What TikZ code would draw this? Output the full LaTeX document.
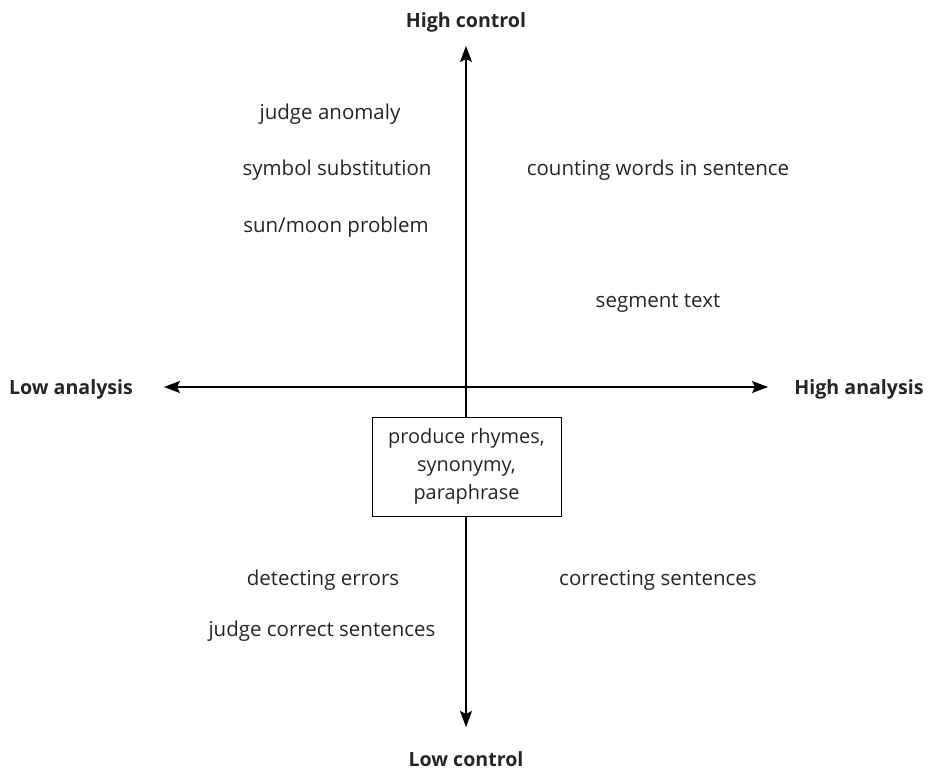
\documentclass[tikz,border=0pt]{standalone}
\usepackage{fontspec}
\setmainfont{Open Sans}
\usetikzlibrary{arrows.meta}
\begin{document}
\begin{tikzpicture}[x=1bp,y=-1bp,
  txt/.style={font=\fontsize{20.5bp}{26bp}\selectfont, text=black!85, inner sep=0pt, anchor=base},
  axlabel/.style={font=\fontsize{19.6bp}{22bp}\selectfont\bfseries, text=black!85, inner sep=0pt, anchor=base},
  axis/.style={line width=1.1bp, -{Stealth[length=16bp,width=12bp,inset=3bp]}},
  centrebox/.style={draw, line width=0.8bp, fill=white, minimum width=189bp, minimum height=99bp, align=center, inner sep=0pt, font=\fontsize{19.9bp}{28bp}\selectfont, text=black!85}]
\useasboundingbox (0,0) rectangle (927,769);
% axis end points
\coordinate (top) at (466,46);
\coordinate (bottom) at (466,727);
\coordinate (left) at (164,387);
\coordinate (right) at (768,387);
\coordinate (centre) at (466,387);
\draw[axis] (centre) -- (top);
\draw[axis] (centre) -- (bottom);
\draw[axis] (centre) -- (left);
\draw[axis] (centre) -- (right);
% axis labels
\node[axlabel] (hc) at (466,28) {High control};
\node[axlabel] (lc) at (466,766) {Low control};
\node[axlabel] (la) at (71,394) {Low analysis};
\node[axlabel] (ha) at (859,394) {High analysis};
% central box
\node[centrebox] (box) at (466.5,466.5) {produce rhymes,\\synonymy,\\paraphrase};
% items
\node[txt] (t1) at (330,119) {judge anomaly};
\node[txt] (t2) at (337,175) {symbol substitution};
\node[txt] (t3) at (336,232) {sun/moon problem};
\node[txt] (t4) at (658,175) {counting words in sentence};
\node[txt] (t5) at (658,307) {segment text};
\node[txt] (t6) at (323,585) {detecting errors};
\node[txt] (t7) at (322,636) {judge correct sentences};
\node[txt] (t8) at (658,585) {correcting sentences};
\end{tikzpicture}
\end{document}
